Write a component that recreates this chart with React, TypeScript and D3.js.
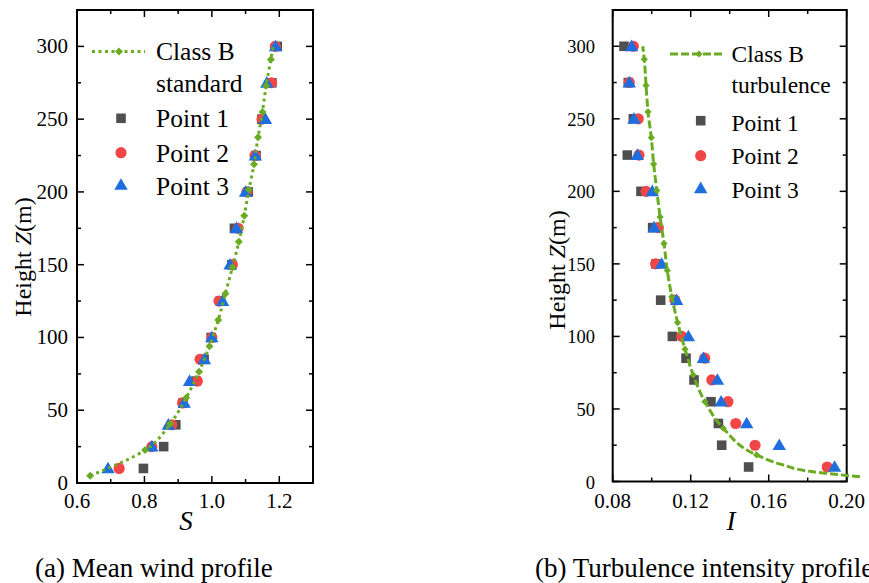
import React from "react";
import * as d3 from "d3";

// ---------- data ----------
const heights = [10, 25, 40, 55, 70, 85, 100, 125, 150, 175, 200, 225, 250, 275, 300];

// (a) mean wind profile
const windPoint1 = [0.797, 0.857, 0.893, 0.914, 0.953, 0.977, 0.998, 1.025, 1.059, 1.067, 1.108, 1.131, 1.148, 1.178, 1.194];
const windPoint2 = [0.725, 0.822, 0.881, 0.913, 0.957, 0.965, 1.0, 1.021, 1.061, 1.078, 1.104, 1.128, 1.149, 1.177, 1.188];
const windPoint3 = [0.692, 0.822, 0.871, 0.918, 0.934, 0.978, 1.0, 1.032, 1.054, 1.073, 1.1, 1.129, 1.159, 1.163, 1.189];
const standardZ = [5, 22.6, 40.5, 58.6, 76.5, 94, 112, 130, 148.3, 165.7, 183.6, 201.5, 219, 237.5, 255, 273, 291];
const standardS = [0.639, 0.802, 0.876, 0.924, 0.962, 0.993, 1.019, 1.04, 1.061, 1.08, 1.096, 1.11, 1.125, 1.137, 1.15, 1.161, 1.175];
const standardEndZ = [300];
const standardEndS = [1.182];

// (b) turbulence intensity profile
const turbPoint1 = [0.1497, 0.1359, 0.1342, 0.1304, 0.1217, 0.1176, 0.1106, 0.1046, 0.1022, 0.1005, 0.0945, 0.0875, 0.0906, 0.088, 0.0858];
const turbPoint2 = [0.19, 0.153, 0.1431, 0.1391, 0.1308, 0.1272, 0.1154, 0.1119, 0.102, 0.1034, 0.0971, 0.0935, 0.0931, 0.0885, 0.0906];
const turbPoint3 = [0.1938, 0.1654, 0.1487, 0.1356, 0.1337, 0.1265, 0.1188, 0.1128, 0.1051, 0.1012, 0.1003, 0.0926, 0.0909, 0.0885, 0.0897];
const turbZ = [18.3, 36.7, 55, 73.4, 91.2, 109.5, 127.4, 145.4, 164, 182.4, 200.6, 218.8, 237, 254.8, 273, 291];
const turbI = [0.1538, 0.1367, 0.1273, 0.1213, 0.1171, 0.1133, 0.1103, 0.108, 0.1063, 0.1043, 0.1026, 0.101, 0.0998, 0.0981, 0.0971, 0.0962];
const turbTailZ = [3.3, 7, 12];
const turbTailI = [0.2068, 0.181, 0.166];
const turbEndZ = [300];
const turbEndI = [0.0954];

const yMajor = [0, 50, 100, 150, 200, 250, 300];
const yMinor = [25, 75, 125, 175, 225, 275];
const sMajor = [0.6, 0.8, 1.0, 1.2];
const sMinor = [0.7, 0.9, 1.1];
const iMajor = [0.08, 0.12, 0.16, 0.2];
const iMinor = [0.1, 0.14, 0.18];

const legendLabels = ["Point 1", "Point 2", "Point 3"];

// ---------- style ----------
const FONT = '"Liberation Serif"';
const GRAY = "#4f4f4f";
const RED = "#f24646";
const BLUE = "#1f6ee0";
const GREEN = "#6aab22";

const txt = (size: number, italic = false): React.CSSProperties => ({
  fontFamily: FONT,
  fontSize: size + "px",
  fontStyle: italic ? "italic" : "normal",
});

const diamondType = {
  draw(ctx: any, size: number) {
    const r = Math.sqrt(size) / 2;
    ctx.moveTo(0, -r);
    ctx.lineTo(r, 0);
    ctx.lineTo(0, r);
    ctx.lineTo(-r, 0);
    ctx.closePath();
  },
};

const sym = {
  square: d3.symbol().type(d3.symbolSquare).size(92)() as string,
  circle: d3.symbol().type(d3.symbolCircle).size(98)() as string,
  triangle: d3.symbol().type(d3.symbolTriangle).size(78)() as string,
  diamondL: d3.symbol().type(diamondType as any).size(64)() as string,
  diamondR: d3.symbol().type(diamondType as any).size(52)() as string,
};

type PanelProps = {
  x0: number; x1: number; y0: number; y1: number;
  xDomain: [number, number];
  xMajor: number[]; xMinor: number[]; xFmt: (v: number) => string;
  yLabelRight: number; yTickFont: number;
  p1: number[]; p2: number[]; p3: number[];
  lineX: number[]; lineZ: number[];
  markX: number[]; markZ: number[];
  dash: string; diamond: string;
  xLabel: string; xLabelX: number;
  yLabX: number; yLabY: number;
  legend: { lx0: number; lx1: number; ly: number; dx: number; tx: number; lines: string[]; baselines: number[]; symX: number; symY: number[]; font: number };
};

function Panel(p: PanelProps) {
  const x = d3.scaleLinear().domain(p.xDomain).range([p.x0, p.x1]);
  const y = d3.scaleLinear().domain([0, 325]).range([p.y1, p.y0]);
  const order = d3.range(p.lineX.length).sort((a, b) => p.lineZ[a] - p.lineZ[b]);
  const line = d3
    .line<number>()
    .x((i) => x(p.lineX[i]))
    .y((i) => y(p.lineZ[i]))
    .curve(d3.curveMonotoneY)(order) as string;
  const tickStroke = { stroke: "#000", strokeWidth: 1.5 };
  const MJ = 7, MN = 4;
  const L = p.legend;
  return (
    <g>
      {p.xMajor.concat(p.xMinor).map((v, k) => {
        const len = p.xMajor.includes(v) ? MJ : MN;
        return (
          <g key={"xt" + k}>
            <line x1={x(v)} x2={x(v)} y1={p.y1} y2={p.y1 - len} {...tickStroke} />
            <line x1={x(v)} x2={x(v)} y1={p.y0} y2={p.y0 + len} {...tickStroke} />
          </g>
        );
      })}
      {yMajor.concat(yMinor).map((v, k) => {
        const len = yMajor.includes(v) ? MJ : MN;
        return (
          <g key={"yt" + k}>
            <line x1={p.x0} x2={p.x0 + len} y1={y(v)} y2={y(v)} {...tickStroke} />
            <line x1={p.x1} x2={p.x1 - len} y1={y(v)} y2={y(v)} {...tickStroke} />
          </g>
        );
      })}
      <rect x={p.x0} y={p.y0} width={p.x1 - p.x0} height={p.y1 - p.y0} fill="none" stroke="#000" strokeWidth={2} />
      {p.xMajor.map((v, k) => (
        <text key={"xl" + k} x={x(v)} y={508} textAnchor="middle" style={txt(21)}>
          {p.xFmt(v)}
        </text>
      ))}
      {yMajor.map((v, k) => (
        <text key={"yl" + k} x={p.yLabelRight} y={y(v) + 7} textAnchor="end" style={txt(p.yTickFont)}>
          {String(v)}
        </text>
      ))}
      <text x={p.xLabelX} y={530} textAnchor="middle" style={txt(27, true)}>
        {p.xLabel}
      </text>
      <text transform={`translate(${p.yLabX},${p.yLabY}) rotate(-90)`} textAnchor="middle" style={txt(24)}>
        Height <tspan style={{ fontStyle: "italic" }}>Z</tspan>(m)
      </text>
      {p.p1.map((v, k) => (
        <path key={"a" + k} d={sym.square} transform={`translate(${x(v)},${y(heights[k])})`} fill={GRAY} />
      ))}
      {p.p2.map((v, k) => (
        <path key={"b" + k} d={sym.circle} transform={`translate(${x(v)},${y(heights[k])})`} fill={RED} />
      ))}
      {p.p3.map((v, k) => (
        <path key={"c" + k} d={sym.triangle} transform={`translate(${x(v)},${y(heights[k]) + 1})`} fill={BLUE} />
      ))}
      <path d={line} fill="none" stroke={GREEN} strokeWidth={3} strokeDasharray={p.dash} />
      {p.markX.map((v, k) => (
        <path key={"d" + k} d={p.diamond} transform={`translate(${x(v)},${y(p.markZ[k])})`} fill={GREEN} />
      ))}
      <line x1={L.lx0} x2={L.lx1} y1={L.ly} y2={L.ly} stroke={GREEN} strokeWidth={3} strokeDasharray={p.dash} />
      <path d={p.diamond} transform={`translate(${L.dx},${L.ly})`} fill={GREEN} />
      {L.lines.map((t, k) => (
        <text key={"lg" + k} x={L.tx} y={L.baselines[k]} style={txt(L.font)}>
          {t}
        </text>
      ))}
      <path d={sym.square} transform={`translate(${L.symX},${L.symY[0]})`} fill={GRAY} />
      <path d={sym.circle} transform={`translate(${L.symX},${L.symY[1]})`} fill={RED} />
      <path d={sym.triangle} transform={`translate(${L.symX},${L.symY[2] + 1})`} fill={BLUE} />
    </g>
  );
}

export default function App() {
  const leftLineX = standardS.concat(standardEndS);
  const leftLineZ = standardZ.concat(standardEndZ);
  const rightLineX = turbTailI.concat(turbI, turbEndI);
  const rightLineZ = turbTailZ.concat(turbZ, turbEndZ);
  return (
    <svg width={869} height={583} style={{ position: "absolute", left: 0, top: 0, background: "#fff" }}>
      <rect width={869} height={583} fill="#fff" />
      <Panel
        x0={77} x1={313} y0={10} y1={483}
        xDomain={[0.6, 1.3]} xMajor={sMajor} xMinor={sMinor} xFmt={(v) => v.toFixed(1)}
        yLabelRight={68} yTickFont={21}
        p1={windPoint1} p2={windPoint2} p3={windPoint3}
        lineX={leftLineX} lineZ={leftLineZ} markX={standardS} markZ={standardZ}
        dash="3 3.5" diamond={sym.diamondL}
        xLabel="S" xLabelX={186}
        yLabX={31} yLabY={257}
        legend={{
          lx0: 92, lx1: 145, ly: 51.5, dx: 119, tx: 156,
          lines: ["Class B", "standard", ...legendLabels],
          baselines: [59.5, 91.5, 127, 161.5, 195],
          symX: 121, symY: [118.3, 152.7, 185], font: 25.5,
        }}
      />
      <Panel
        x0={612.7} x1={846.7} y0={10} y1={481.5}
        xDomain={[0.08, 0.2]} xMajor={iMajor} xMinor={iMinor} xFmt={(v) => v.toFixed(2)}
        yLabelRight={595} yTickFont={18.5}
        p1={turbPoint1} p2={turbPoint2} p3={turbPoint3}
        lineX={rightLineX} lineZ={rightLineZ} markX={turbI} markZ={turbZ}
        dash="8 3" diamond={sym.diamondR}
        xLabel="I" xLabelX={731}
        yLabX={565} yLabY={270}
        legend={{
          lx0: 670, lx1: 725, ly: 54, dx: 699, tx: 731.5,
          lines: ["Class B", "turbulence", ...legendLabels],
          baselines: [61.7, 92.7, 130.7, 164, 198],
          symX: 700.7, symY: [120.7, 155.7, 188.3], font: 23.5,
        }}
      />
      <text x={35} y={576.5} style={txt(27)}>
        (a) Mean wind profile
      </text>
      <text x={535} y={576.5} style={txt(27)}>
        (b) Turbulence intensity profile
      </text>
    </svg>
  );
}
